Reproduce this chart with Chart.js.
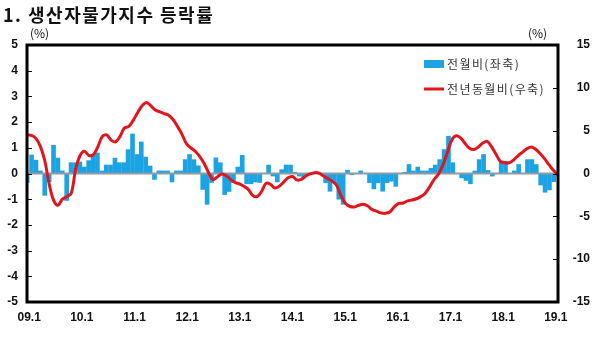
<!DOCTYPE html>
<html>
<head>
<meta charset="utf-8">
<script src="https://cdn.jsdelivr.net/npm/chart.js@4/dist/chart.umd.min.js"></script>
<style>
html, body { margin: 0; background: #fff; }
#wrap { width: 606px; height: 345px; }
</style>
</head>
<body>
<div id="wrap"><canvas id="ppi" width="606" height="345"></canvas></div>
<script>
// month labels 09.1 .. 19.1
const months = [];
for (let y = 9; y <= 19; y++) {
	for (let m = 1; m <= 12; m++) {
		if (y === 19 && m > 1) break;
		months.push(String(y).padStart(2, '0') + '.' + m);
	}
}
const tickLabels = ['09.1', '10.1', '11.1', '12.1', '13.1', '14.1', '15.1', '16.1', '17.1', '18.1', '19.1'];

// 전월비 (좌축, %)
const momChange = [
	-0.35, 0.72, 0.52, 0.1, -0.85, -0.32, 1.1, 0.6, 0.1, -1.05,
	0.42, 0.42, 0.45, 0.25, 0.5, 0.74, 0.8, 0.1, 0.33, 0.33,
	0.6, 0.42, 0.42, 0.93, 1.54, 0.74, 1.23, 0.64, 0.29, -0.23,
	0.1, 0.1, 0.1, -0.33, 0.1, 0.1, 0.54, 0.74, 0.54, 0.3,
	-0.62, -1.2, -0.35, 0.61, 0.42, -0.82, -0.7, -0.35, 0.25, 0.71,
	-0.4, -0.4, -0.33, -0.35, 0.0, 0.33, -0.1, -0.33, 0.15, 0.33,
	0.33, 0.05, -0.1, -0.17, 0.0, 0.0, 0.0, -0.05, -0.36, -0.69,
	-0.36, -1.0, -1.2, 0.13, -0.05, 0.0, 0.1, 0.0, -0.36, -0.6,
	-0.36, -0.69, -0.36, -0.3, -0.5, 0.0, 0.05, 0.35, 0.1, 0.25,
	0.1, 0.1, 0.2, 0.33, 0.54, 0.93, 1.45, 0.42, 0.0, -0.17,
	-0.27, -0.4, 0.1, 0.54, 0.74, 0.12, -0.1, 0.0, 0.5, 0.48,
	0.0, 0.1, 0.35, 0.0, 0.54, 0.54, 0.35, -0.45, -0.73, -0.64,
	-0.32
];

// 전년동월비 (우축, %)
const yoyChange = [
	4.5, 4.45, 4.1, 3.2, 1.55, -1.2, -3.1, -3.7, -3.0, -2.7,
	-2.3, 0.5, 2.1, 2.6, 2.1, 2.2, 3.1, 4.3, 4.5, 3.9,
	3.7, 4.3, 5.3, 5.5, 6.2, 7.1, 7.9, 8.3, 7.9, 7.4,
	7.2, 7.0, 6.8, 6.3, 5.5, 4.6, 3.5, 3.0, 2.6, 2.0,
	1.2, 0.15, -0.7, -0.4, -0.05, -0.25, -0.7, -1.05, -1.2, -1.5,
	-1.85, -2.55, -2.7, -2.1, -1.15, -1.25, -1.7, -1.5, -1.0, -0.5,
	-0.35, -0.75, -0.7, -0.3, -0.05, 0.1, 0.05, -0.3, -0.6, -0.9,
	-1.4, -2.65, -3.5, -3.85, -3.9, -3.7, -3.6, -3.8, -4.2, -4.4,
	-4.6, -4.65, -4.5, -3.9, -3.5, -3.45, -3.2, -3.1, -2.95, -2.7,
	-2.3, -1.55, -0.7, -0.05, 1.0, 2.45, 3.9, 4.4, 4.15, 3.5,
	2.95, 2.8, 3.1, 3.55, 3.75, 3.1, 2.25, 1.4, 1.25, 1.25,
	1.6, 2.1, 2.5, 2.9, 3.1, 2.8, 2.3, 1.7, 1.0, 0.35,
	-0.1
];

const tickFont = { family: "'Liberation Sans', Arial, sans-serif", size: 12, weight: 'bold' };
const krFont = "'Noto Sans CJK KR', sans-serif";

// zero line above the bars, box, inward ticks, title and legend
const frame = {
	id: 'frame',
	afterDatasetDraw(chart, args) {
		if (args.index !== 0) return;
		const { ctx, chartArea: a, scales } = chart;
		const z = scales.y.getPixelForValue(0);
		ctx.save();
		ctx.strokeStyle = '#8d9ba5';
		ctx.lineWidth = 2;
		ctx.beginPath();
		ctx.moveTo(a.left, z);
		ctx.lineTo(a.right, z);
		ctx.stroke();
		ctx.restore();
	},
	afterDraw(chart) {
		const { ctx, chartArea: a, scales } = chart;
		ctx.save();
		ctx.strokeStyle = '#000';
		ctx.lineWidth = 1;
		scales.y.ticks.forEach(t => {
			const py = Math.round(scales.y.getPixelForValue(t.value)) + 0.5;
			ctx.beginPath(); ctx.moveTo(a.left, py); ctx.lineTo(a.left + 5, py); ctx.stroke();
		});
		scales.y2.ticks.forEach(t => {
			const py = Math.round(scales.y2.getPixelForValue(t.value)) + 0.5;
			ctx.beginPath(); ctx.moveTo(a.right - 5, py); ctx.lineTo(a.right, py); ctx.stroke();
		});
		ctx.lineWidth = 3;
		ctx.strokeRect(a.left, a.top, a.right - a.left, a.bottom - a.top);

		// title
		ctx.fillStyle = '#111';
		ctx.textBaseline = 'middle';
		ctx.textAlign = 'left';
		ctx.font = 'bold 18px ' + krFont;
		ctx.letterSpacing = '1.5px';
		ctx.fillText('1. 생산자물가지수 등락률', 3, 15);

		// unit labels
		ctx.letterSpacing = '0px';
		ctx.font = '12px ' + krFont;
		ctx.fillText('(%)', 30, 33);
		ctx.fillText('(%)', 528, 33);

		// legend
		ctx.fillStyle = '#1fa2e0';
		ctx.fillRect(424, 60, 20, 8);
		ctx.strokeStyle = '#e3141b';
		ctx.lineWidth = 3;
		ctx.beginPath(); ctx.moveTo(424, 89); ctx.lineTo(444, 89); ctx.stroke();
		ctx.fillStyle = '#333';
		ctx.font = '12px ' + krFont;
		ctx.letterSpacing = '1.4px';
		ctx.fillText('전월비(좌축)', 447, 64);
		ctx.fillText('전년동월비(우축)', 447, 89);
		ctx.restore();
	}
};

new Chart(document.getElementById('ppi'), {
	type: 'bar',
	data: {
		labels: months,
		datasets: [
			{
				label: '전월비(좌축)',
				data: momChange,
				backgroundColor: '#1ca3e3',
				borderWidth: 0,
				barThickness: 4,
				yAxisID: 'y',
				xAxisID: 'x',
				order: 2,
			},
			{
				type: 'line',
				label: '전년동월비(우축)',
				data: yoyChange,
				borderColor: '#e3141b',
				borderWidth: 3,
				pointRadius: 0,
				tension: 0.35,
				yAxisID: 'y2',
				xAxisID: 'x2',
				order: 1,
			},
		],
	},
	options: {
		responsive: false,
		animation: false,
		devicePixelRatio: 1,
		layout: { padding: { top: 45, right: 16 } },
		plugins: {
			legend: { display: false },
			title: { display: false },
			tooltip: { enabled: false },
		},
		scales: {
			x: {
				type: 'category',
				offset: true,
				grid: { display: false, drawTicks: false },
				border: { display: false },
				ticks: {
					autoSkip: false,
					maxRotation: 0,
					padding: 8,
					color: '#111',
					font: tickFont,
					callback: (v, i) => tickLabels.includes(months[i]) ? months[i] : '',
				},
				afterFit: s => { s.height = 43; },
			},
			x2: {
				type: 'category',
				labels: months,
				offset: false,
				display: false,
			},
			y: {
				position: 'left',
				min: -5,
				max: 5,
				grid: { display: false, drawTicks: false },
				border: { display: false },
				ticks: { stepSize: 1, padding: 9, color: '#111', font: tickFont },
				afterFit: s => { s.width = 27; },
			},
			y2: {
				position: 'right',
				min: -15,
				max: 15,
				grid: { display: false, drawTicks: false },
				border: { display: false },
				ticks: { stepSize: 5, padding: 8, crossAlign: 'far', color: '#111', font: tickFont },
				afterFit: s => { s.width = 32; },
			},
		},
	},
	plugins: [frame],
});
</script>
</body>
</html>
